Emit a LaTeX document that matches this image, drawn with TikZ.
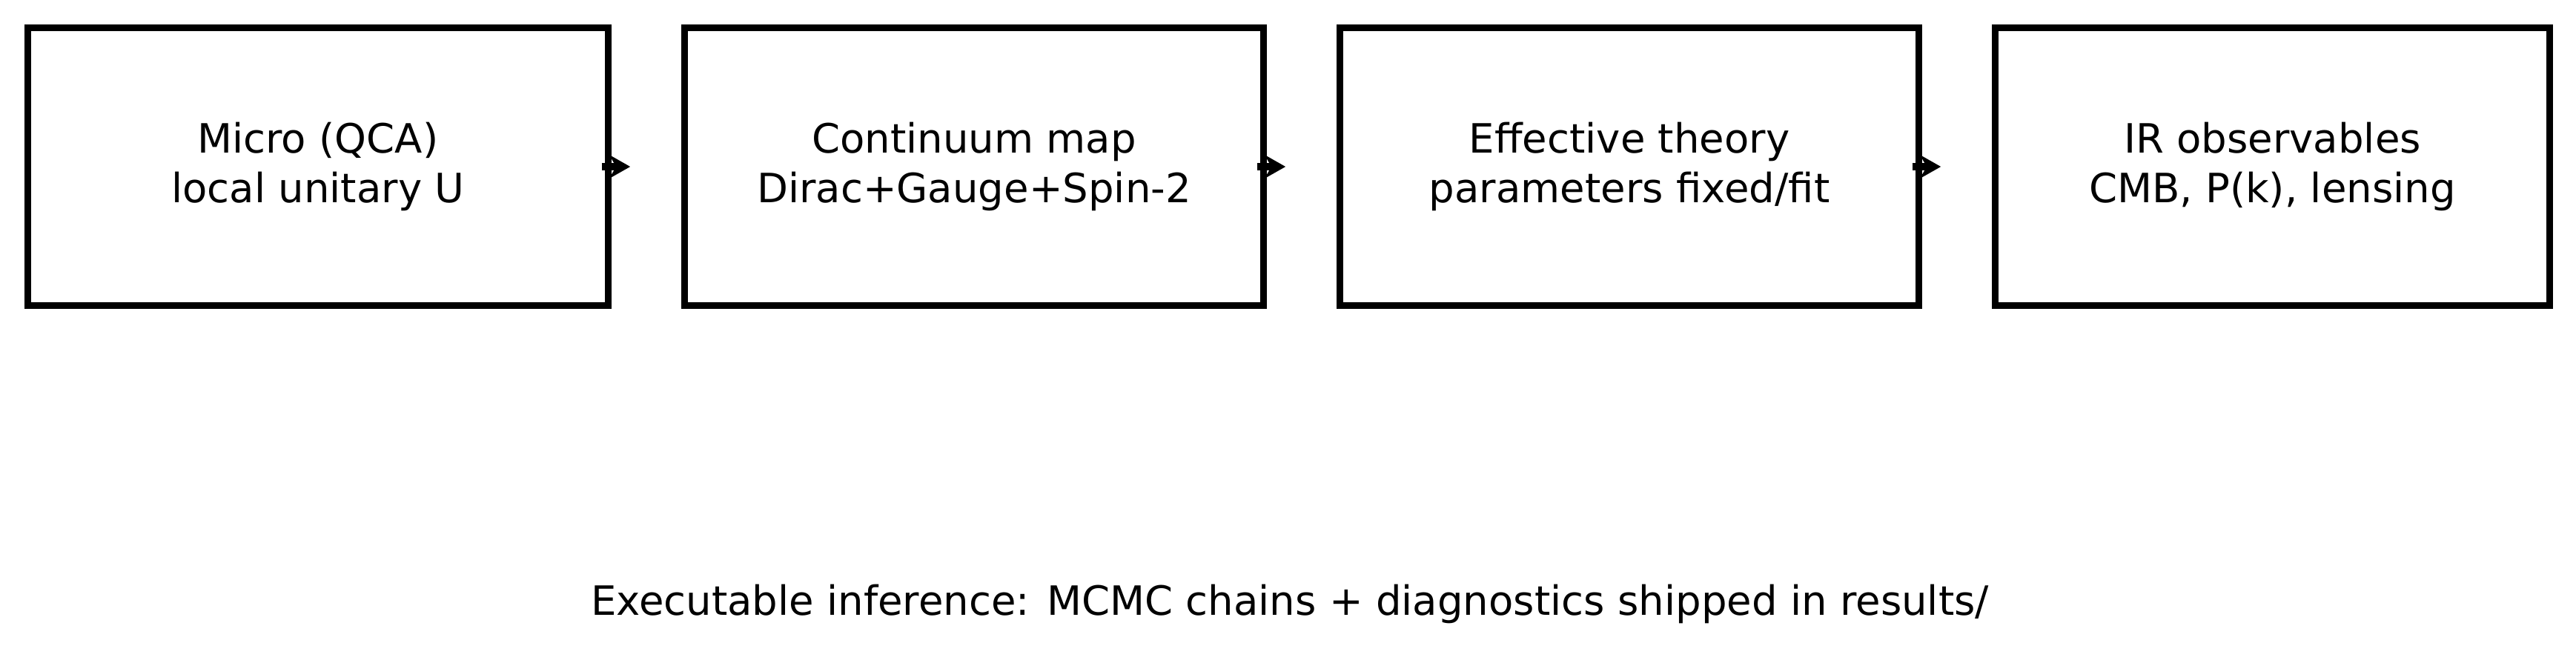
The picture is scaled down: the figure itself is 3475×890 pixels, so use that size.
\documentclass[tikz,border=0pt]{standalone}
\usepackage{fontspec}
\setmainfont{DejaVu Sans}
\usetikzlibrary{arrows.meta}
\begin{document}
\begin{tikzpicture}[x=0.01cm,y=-0.01cm,
  blk/.style={draw,line width=2.6pt,minimum height=3.74cm,align=center,font=\fontsize{15.5}{19}\selectfont,inner sep=0pt},
  arr/.style={-{Stealth[length=8pt,width=9pt]},line width=2.6pt}]
\useasboundingbox (0,0) rectangle (3475,890);
\node[blk,minimum width=7.82cm] (a) at (429,225) {Micro (QCA)\\local unitary U};
\node[blk,minimum width=7.80cm] (b) at (1314,225) {Continuum map\\Dirac+Gauge+Spin-2};
\node[blk,minimum width=7.80cm] (c) at (2198,225) {Effective theory\\parameters fixed/fit};
\node[blk,minimum width=7.47cm] (d) at (3065.5,225) {IR observables\\CMB, P(k), lensing};
\draw[arr] ([xshift=-0.13cm]a.east) -- ([xshift=-0.69cm]b.west);
\draw[arr] ([xshift=-0.13cm]b.east) -- ([xshift=-0.69cm]c.west);
\draw[arr] ([xshift=-0.13cm]c.east) -- ([xshift=-0.69cm]d.west);
\node[font=\fontsize{15.5}{19}\selectfont] (t) at (1740,815) {Executable inference: MCMC chains + diagnostics shipped in results/};
\end{tikzpicture}
\end{document}
